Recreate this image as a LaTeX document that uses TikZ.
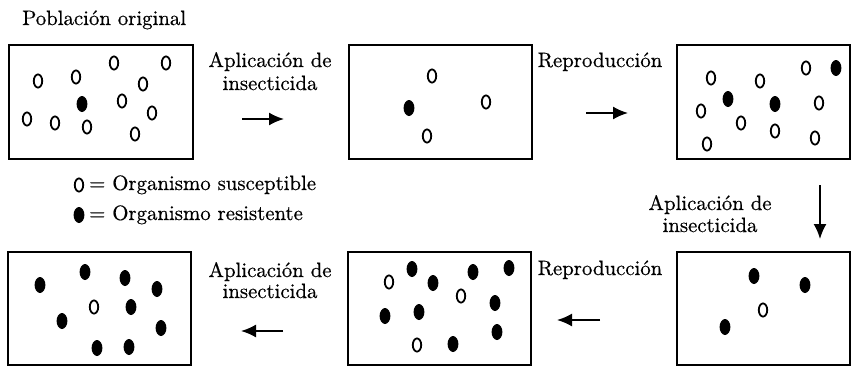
\documentclass[tikz,border=0pt]{standalone}
\usepackage{fontspec}
\setmainfont{lmroman10-regular.otf}[FakeBold=0.5]
\usetikzlibrary{arrows.meta}
\begin{document}
\begin{tikzpicture}[x=1pt,y=-1pt,
  popbox/.style={draw, line width=2.2pt, inner sep=0pt},
  sus/.style={draw, line width=1.8pt},
  res/.style={fill},
  txt/.style={font=\fontsize{20.8}{23}\selectfont, inner sep=0pt},
  flow/.style={-{Latex[length=15pt,width=13pt]}, line width=1.8pt}]
\useasboundingbox (0,0) rectangle (852,367);

% boxes
\node[popbox, minimum width=184pt, minimum height=114pt] (b1) at (101,102) {};
\node[popbox, minimum width=183pt, minimum height=114pt] (b2) at (440.5,102) {};
\node[popbox, minimum width=173pt, minimum height=114pt] (b3) at (763.5,102) {};
\node[popbox, minimum width=183pt, minimum height=113pt] (b4) at (99.5,308.5) {};
\node[popbox, minimum width=183pt, minimum height=113pt] (b5) at (439.5,308.5) {};
\node[popbox, minimum width=173pt, minimum height=113pt] (b6) at (763.5,308.5) {};

% organisms
\newcommand{\susc}[1]{\foreach \p in {#1} \draw[sus] \p ellipse [x radius=4.2, y radius=6.6];}
\newcommand{\resi}[1]{\foreach \p in {#1} \fill[res] \p ellipse [x radius=5.4, y radius=8];}

\susc{(38,81),(76,77),(114,63),(166,63),(143,84),(122,101),(27,119),(55,123),(87,127),(152,113),(135,134)}
\resi{(82,104)}

\susc{(432,76),(486,102),(427,136)}
\resi{(409,108)}

\susc{(711,78),(760,81),(806,68),(819,103),(701,111),(741,123),(775,131),(707,144),(815,138)}
\resi{(836,68),(728,99),(775,104)}

\susc{(94,307)}
\resi{(40,285),(85,272),(125,278),(157,289),(131,307),(62,321),(161,328),(97,348),(129,347)}

\susc{(389,282),(461,296),(417,345)}
\resi{(412,269),(433,283),(473,272),(509,268),(495,303),(385,316),(419,312),(497,332),(453,344)}

\susc{(763,310)}
\resi{(754,276),(805,285),(725,327)}

% title
\node[txt, anchor=base west] (title) at (22,25) {Población original};

% legend
\draw[sus] (79,185) ellipse [x radius=4.2, y radius=6.6];
\node[txt, anchor=base west] (leg1) at (89,190) {= Organismo susceptible};
\fill[res] (79,215) ellipse [x radius=5.4, y radius=8];
\node[txt, anchor=base west] (leg2) at (89,220) {= Organismo resistente};

% labels
\node[txt, anchor=base] (l1a) at (270,67) {Aplicación de};
\node[txt, anchor=base] (l1b) at (270,90) {insecticida};
\node[txt, anchor=base] (l2) at (600,67) {Reproducción};
\node[txt, anchor=base] (l3a) at (710,210) {Aplicación de};
\node[txt, anchor=base] (l3b) at (710,232) {insecticida};
\node[txt, anchor=base] (l4a) at (270,277) {Aplicación de};
\node[txt, anchor=base] (l4b) at (270,298) {insecticida};
\node[txt, anchor=base] (l5) at (600,275) {Reproducción};

% arrows
\coordinate (a1s) at (242,119); \coordinate (a1e) at (284,119);
\coordinate (a2s) at (586,113); \coordinate (a2e) at (628,113);
\coordinate (a3s) at (820,185); \coordinate (a3e) at (820,239);
\coordinate (a4s) at (283,331); \coordinate (a4e) at (241,331);
\coordinate (a5s) at (600,320); \coordinate (a5e) at (557,320);
\draw[flow] (a1s) -- (a1e);
\draw[flow] (a2s) -- (a2e);
\draw[flow] (a3s) -- (a3e);
\draw[flow] (a4s) -- (a4e);
\draw[flow] (a5s) -- (a5e);
\end{tikzpicture}
\end{document}
